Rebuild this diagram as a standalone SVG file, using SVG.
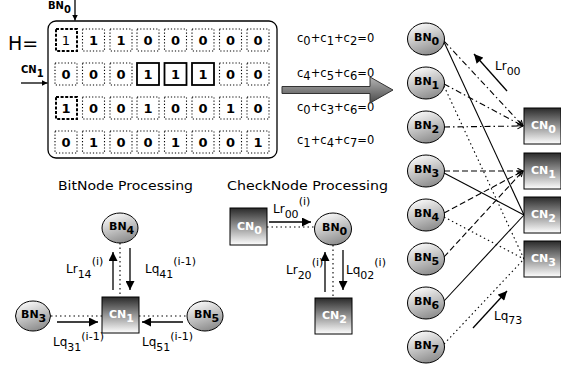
<svg xmlns="http://www.w3.org/2000/svg" width="561" height="372" viewBox="0 0 561 372">
<defs>
  <linearGradient id="gBN" x1="0.2" y1="0" x2="0.6" y2="1">
    <stop offset="0" stop-color="#ffffff"/>
    <stop offset="1" stop-color="#8c8c8c"/>
  </linearGradient>
  <linearGradient id="gCN" x1="0" y1="0" x2="0" y2="1">
    <stop offset="0" stop-color="#2a2a2a"/>
    <stop offset="1" stop-color="#ffffff"/>
  </linearGradient>
  <linearGradient id="gAr" x1="0" y1="0" x2="0" y2="1">
    <stop offset="0" stop-color="#b5b5b5"/>
    <stop offset="1" stop-color="#4a4a4a"/>
  </linearGradient>
  <marker id="ah" viewBox="0 0 10 10" refX="10" refY="5" markerWidth="10" markerHeight="9" markerUnits="userSpaceOnUse" orient="auto">
    <path d="M0,0 L10,5 L0,10 z" fill="#000"/>
  </marker>
  <marker id="sh" viewBox="0 0 10 10" refX="10" refY="5" markerWidth="6" markerHeight="6" markerUnits="userSpaceOnUse" orient="auto">
    <path d="M0,0 L10,5 L0,10 z" fill="#000"/>
  </marker>
  <marker id="oa" viewBox="0 0 10 10" refX="9" refY="5" markerWidth="7" markerHeight="7" markerUnits="userSpaceOnUse" orient="auto">
    <path d="M1,1 L9,5 L1,9" fill="none" stroke="#000" stroke-width="1.5"/>
  </marker>
</defs>
<style>
  text { font-family: "DejaVu Sans", "Liberation Sans", sans-serif; fill: #000; }
  .nl { font-weight: bold; font-size: 11px; }
  .cnt { fill: #fff; }
  .bn { fill: url(#gBN); stroke: #000; stroke-width: 1; }
  .cn { fill: url(#gCN); stroke: #000; stroke-width: 1; }
  .cell { fill: none; stroke: #000; stroke-width: 1.1; stroke-dasharray: 1.2 2; }
  .cdash { fill: none; stroke: #000; stroke-width: 2; stroke-dasharray: 3 1.6; }
  .csol { fill: none; stroke: #000; stroke-width: 1.8; }
  .d { font-weight: bold; font-size: 13px; text-anchor: middle; }
  .ln { fill: none; stroke: #000; stroke-width: 1.1; }
  .dd { stroke-dasharray: 6 3 1.5 3; }
  .da { stroke-dasharray: 6 3; }
  .dt { stroke-dasharray: 1.5 3; }
  .ar { fill: none; stroke: #000; stroke-width: 1.3; }
  .lb { font-size: 12px; }
  .sb { font-size: 11px; }
  .eq { font-size: 11.5px; }
  .ttl { font-size: 12.5px; }
</style>

<!-- Matrix H -->
<g id="matrix">
  <text x="8" y="50" font-size="19">H=</text>
  <rect x="48" y="21" width="229" height="137" rx="8" fill="#fff" stroke="#000" stroke-width="1.3"/>
  <!-- row 0 -->
  <rect class="cdash" x="56" y="29" width="21" height="22"/>
  <rect class="cell" x="82.5" y="29" width="22" height="22"/>
  <rect class="cell" x="110" y="29" width="22" height="22"/>
  <rect class="cell" x="137" y="29" width="22" height="22"/>
  <rect class="cell" x="164.5" y="29" width="22" height="22"/>
  <rect class="cell" x="192" y="29" width="22" height="22"/>
  <rect class="cell" x="219.5" y="29" width="22" height="22"/>
  <rect class="cell" x="247" y="29" width="22" height="22"/>
  <text class="d" x="66" y="45" font-weight="normal" style="font-weight:normal">1</text>
  <text class="d" x="93.5" y="45">1</text>
  <text class="d" x="121" y="45">1</text>
  <text class="d" x="148" y="45">0</text>
  <text class="d" x="175.5" y="45">0</text>
  <text class="d" x="203" y="45">0</text>
  <text class="d" x="230.5" y="45">0</text>
  <text class="d" x="258" y="45">0</text>
  <!-- row 1 -->
  <rect class="cell" x="55" y="63" width="22" height="22"/>
  <rect class="cell" x="82.5" y="63" width="22" height="22"/>
  <rect class="cell" x="110" y="63" width="22" height="22"/>
  <rect class="csol" x="137" y="63" width="22" height="22"/>
  <rect class="csol" x="164.5" y="63" width="22" height="22"/>
  <rect class="csol" x="192" y="63" width="22" height="22"/>
  <rect class="cell" x="219.5" y="63" width="22" height="22"/>
  <rect class="cell" x="247" y="63" width="22" height="22"/>
  <text class="d" x="66" y="79">0</text>
  <text class="d" x="93.5" y="79">0</text>
  <text class="d" x="121" y="79">0</text>
  <text class="d" x="148" y="79">1</text>
  <text class="d" x="175.5" y="79">1</text>
  <text class="d" x="203" y="79">1</text>
  <text class="d" x="230.5" y="79">0</text>
  <text class="d" x="258" y="79">0</text>
  <!-- row 2 -->
  <rect class="cdash" x="56" y="97" width="21" height="22"/>
  <rect class="cell" x="82.5" y="97" width="22" height="22"/>
  <rect class="cell" x="110" y="97" width="22" height="22"/>
  <rect class="cell" x="137" y="97" width="22" height="22"/>
  <rect class="cell" x="164.5" y="97" width="22" height="22"/>
  <rect class="cell" x="192" y="97" width="22" height="22"/>
  <rect class="cell" x="219.5" y="97" width="22" height="22"/>
  <rect class="cell" x="247" y="97" width="22" height="22"/>
  <text class="d" x="66" y="113">1</text>
  <text class="d" x="93.5" y="113">0</text>
  <text class="d" x="121" y="113">0</text>
  <text class="d" x="148" y="113">1</text>
  <text class="d" x="175.5" y="113">0</text>
  <text class="d" x="203" y="113">0</text>
  <text class="d" x="230.5" y="113">1</text>
  <text class="d" x="258" y="113">0</text>
  <!-- row 3 -->
  <rect class="cell" x="55" y="131" width="22" height="22"/>
  <rect class="cell" x="82.5" y="131" width="22" height="22"/>
  <rect class="cell" x="110" y="131" width="22" height="22"/>
  <rect class="cell" x="137" y="131" width="22" height="22"/>
  <rect class="cell" x="164.5" y="131" width="22" height="22"/>
  <rect class="cell" x="192" y="131" width="22" height="22"/>
  <rect class="cell" x="219.5" y="131" width="22" height="22"/>
  <rect class="cell" x="247" y="131" width="22" height="22"/>
  <text class="d" x="66" y="147">0</text>
  <text class="d" x="93.5" y="147">1</text>
  <text class="d" x="121" y="147">0</text>
  <text class="d" x="148" y="147">0</text>
  <text class="d" x="175.5" y="147">1</text>
  <text class="d" x="203" y="147">0</text>
  <text class="d" x="230.5" y="147">0</text>
  <text class="d" x="258" y="147">1</text>
  <!-- matrix pointers -->
  <text class="nl" x="48" y="9" font-size="10" style="font-size:10px">BN<tspan dy="4">0</tspan></text>
  <line class="ar" x1="75" y1="0" x2="75" y2="20.5" stroke-width="1.1" marker-end="url(#sh)"/>
  <text class="nl" x="21" y="73" style="font-size:10px">CN<tspan dy="4">1</tspan></text>
  <line class="ar" x1="21" y1="83" x2="47.5" y2="83" stroke-width="1.1" marker-end="url(#sh)"/>
</g>

<!-- Equations -->
<g id="equations">
  <text class="eq" x="297" y="42">c<tspan dy="3">0</tspan><tspan dy="-3">+c</tspan><tspan dy="3">1</tspan><tspan dy="-3">+c</tspan><tspan dy="3">2</tspan><tspan dy="-3">=0</tspan></text>
  <text class="eq" x="297" y="77">c<tspan dy="3">4</tspan><tspan dy="-3">+c</tspan><tspan dy="3">5</tspan><tspan dy="-3">+c</tspan><tspan dy="3">6</tspan><tspan dy="-3">=0</tspan></text>
  <text class="eq" x="297" y="111">c<tspan dy="3">0</tspan><tspan dy="-3">+c</tspan><tspan dy="3">3</tspan><tspan dy="-3">+c</tspan><tspan dy="3">6</tspan><tspan dy="-3">=0</tspan></text>
  <text class="eq" x="297" y="144">c<tspan dy="3">1</tspan><tspan dy="-3">+c</tspan><tspan dy="3">4</tspan><tspan dy="-3">+c</tspan><tspan dy="3">7</tspan><tspan dy="-3">=0</tspan></text>
</g>

<!-- Big arrow -->
<g id="bigArrow">
  <polygon points="282,86.5 370,86.5 370,77 393,90 370,103 370,93.5 282,93.5" fill="url(#gAr)" stroke="#333" stroke-width="1"/>
</g>

<!-- Connectors (Tanner graph + processing panels) -->
<g id="connectors">
  <!-- CN0: dash-dot -->
  <line class="ln dd" x1="444" y1="41" x2="523" y2="126" marker-end="url(#oa)"/>
  <line class="ln dd" x1="444" y1="84" x2="523" y2="126" marker-end="url(#oa)"/>
  <line class="ln dd" x1="444" y1="127" x2="523" y2="126" marker-end="url(#oa)"/>
  <!-- CN1: dashed -->
  <line class="ln da" x1="444" y1="171" x2="523" y2="171" marker-end="url(#oa)"/>
  <line class="ln da" x1="444" y1="213" x2="523" y2="171" marker-end="url(#oa)"/>
  <line class="ln da" x1="444" y1="257" x2="523" y2="171" marker-end="url(#oa)"/>
  <!-- CN2: solid -->
  <line class="ln" x1="444" y1="42" x2="524" y2="215"/>
  <line class="ln" x1="444" y1="173" x2="524" y2="215"/>
  <line class="ln" x1="444" y1="301" x2="524" y2="215"/>
  <!-- CN3: dotted -->
  <line class="ln dt" x1="444" y1="86" x2="524" y2="259"/>
  <line class="ln dt" x1="444" y1="217" x2="524" y2="259"/>
  <line class="ln dt" x1="444" y1="344" x2="524" y2="259"/>
  <!-- message arrows -->
  <line class="ar" x1="507" y1="91" x2="474" y2="54" marker-end="url(#ah)" stroke-width="1.1"/>
  <line class="ar" x1="473" y1="328" x2="507" y2="291" marker-end="url(#ah)" stroke-width="1.1"/>

  <!-- BitNode processing -->
  <line class="ln dt" x1="51" y1="316" x2="102" y2="316" stroke-width="1.3"/>
  <line class="ln dt" x1="139" y1="316" x2="187" y2="316" stroke-width="1.3"/>
  <line class="ln dt" x1="120" y1="243" x2="120" y2="297" stroke-width="1.3"/>
  <line class="ar" x1="113" y1="290" x2="113" y2="252" marker-end="url(#ah)"/>
  <line class="ar" x1="130" y1="248" x2="130" y2="290" marker-end="url(#ah)"/>
  <line class="ar" x1="57" y1="322" x2="98" y2="322" marker-end="url(#ah)"/>
  <line class="ar" x1="183" y1="322" x2="142" y2="322" marker-end="url(#ah)"/>

  <!-- CheckNode processing -->
  <line class="ln dt" x1="267" y1="227" x2="315" y2="227" stroke-width="1.3"/>
  <line class="ln dt" x1="333" y1="245" x2="333" y2="298" stroke-width="1.3"/>
  <line class="ar" x1="269" y1="222" x2="311" y2="222" marker-end="url(#ah)"/>
  <line class="ar" x1="325" y1="292" x2="325" y2="252" marker-end="url(#ah)"/>
  <line class="ar" x1="343" y1="250" x2="343" y2="290" marker-end="url(#ah)"/>
</g>

<!-- Connector labels -->
<g id="labels">
  <text class="lb" x="495" y="70">Lr<tspan class="sb" dy="5">00</tspan></text>
  <text class="lb" x="494" y="320">Lq<tspan class="sb" dy="4">73</tspan></text>
  <text class="ttl" x="58" y="190" textLength="135" lengthAdjust="spacingAndGlyphs">BitNode Processing</text>
  <text class="ttl" x="227" y="190" textLength="161" lengthAdjust="spacingAndGlyphs">CheckNode Processing</text>
  <text class="lb" x="66" y="273">Lr<tspan class="sb" dy="5">14</tspan><tspan class="sb" dy="-13">(i)</tspan></text>
  <text class="lb" x="145" y="273">Lq<tspan class="sb" dy="5">41</tspan><tspan class="sb" dy="-13">(i-1)</tspan></text>
  <text class="lb" x="53" y="346">Lq<tspan class="sb" dy="5">31</tspan><tspan class="sb" dy="-11">(i-1)</tspan></text>
  <text class="lb" x="142" y="346">Lq<tspan class="sb" dy="5">51</tspan><tspan class="sb" dy="-11">(i-1)</tspan></text>
  <text class="lb" x="273" y="213">Lr<tspan class="sb" dy="5">00</tspan><tspan class="sb" dy="-13">(i)</tspan></text>
  <text class="lb" x="286" y="274">Lr<tspan class="sb" dy="5">20</tspan><tspan class="sb" dy="-13">(i)</tspan></text>
  <text class="lb" x="346" y="274">Lq<tspan class="sb" dy="5">02</tspan><tspan class="sb" dy="-13">(i)</tspan></text>
</g>

<!-- Tanner graph bit nodes -->
<g id="BN0"><ellipse class="bn" cx="426" cy="39" rx="18.5" ry="16"/><text class="nl" x="414" y="41">BN<tspan dy="4">0</tspan></text></g>
<g id="BN1"><ellipse class="bn" cx="426" cy="83" rx="18.5" ry="16"/><text class="nl" x="414" y="85">BN<tspan dy="4">1</tspan></text></g>
<g id="BN2"><ellipse class="bn" cx="426" cy="127" rx="18.5" ry="16"/><text class="nl" x="414" y="129">BN<tspan dy="4">2</tspan></text></g>
<g id="BN3"><ellipse class="bn" cx="426" cy="171" rx="18.5" ry="16"/><text class="nl" x="414" y="173">BN<tspan dy="4">3</tspan></text></g>
<g id="BN4"><ellipse class="bn" cx="426" cy="215" rx="18.5" ry="16"/><text class="nl" x="414" y="217">BN<tspan dy="4">4</tspan></text></g>
<g id="BN5"><ellipse class="bn" cx="426" cy="259" rx="18.5" ry="16"/><text class="nl" x="414" y="261">BN<tspan dy="4">5</tspan></text></g>
<g id="BN6"><ellipse class="bn" cx="426" cy="303" rx="18.5" ry="16"/><text class="nl" x="414" y="305">BN<tspan dy="4">6</tspan></text></g>
<g id="BN7"><ellipse class="bn" cx="426" cy="347" rx="18.5" ry="16"/><text class="nl" x="414" y="349">BN<tspan dy="4">7</tspan></text></g>

<!-- Tanner graph check nodes -->
<g id="CN0"><rect class="cn" x="524" y="108" width="37" height="36"/><text class="nl cnt" x="531" y="129">CN<tspan dy="4">0</tspan></text></g>
<g id="CN1"><rect class="cn" x="524" y="153" width="37" height="36"/><text class="nl cnt" x="531" y="174">CN<tspan dy="4">1</tspan></text></g>
<g id="CN2"><rect class="cn" x="524" y="197" width="37" height="36"/><text class="nl cnt" x="531" y="218">CN<tspan dy="4">2</tspan></text></g>
<g id="CN3"><rect class="cn" x="524" y="241" width="37" height="36"/><text class="nl cnt" x="531" y="262">CN<tspan dy="4">3</tspan></text></g>

<!-- BitNode processing nodes -->
<g id="bp-BN4"><ellipse class="bn" cx="120" cy="228" rx="18" ry="15"/><text class="nl" x="109" y="230">BN<tspan dy="4">4</tspan></text></g>
<g id="bp-BN3"><ellipse class="bn" cx="33" cy="316" rx="17.5" ry="15"/><text class="nl" x="21" y="318">BN<tspan dy="4">3</tspan></text></g>
<g id="bp-CN1"><rect class="cn" x="102" y="297" width="37" height="36"/><text class="nl cnt" x="109" y="318">CN<tspan dy="4">1</tspan></text></g>
<g id="bp-BN5"><ellipse class="bn" cx="205" cy="316" rx="18" ry="15"/><text class="nl" x="194" y="318">BN<tspan dy="4">5</tspan></text></g>

<!-- CheckNode processing nodes -->
<g id="cp-CN0"><rect class="cn" x="230" y="208" width="37" height="37"/><text class="nl cnt" x="237" y="230">CN<tspan dy="4">0</tspan></text></g>
<g id="cp-BN0"><ellipse class="bn" cx="333" cy="229" rx="18.5" ry="16"/><text class="nl" x="322" y="231">BN<tspan dy="4">0</tspan></text></g>
<g id="cp-CN2"><rect class="cn" x="315" y="298" width="37" height="36"/><text class="nl cnt" x="322" y="319">CN<tspan dy="4">2</tspan></text></g>
</svg>
